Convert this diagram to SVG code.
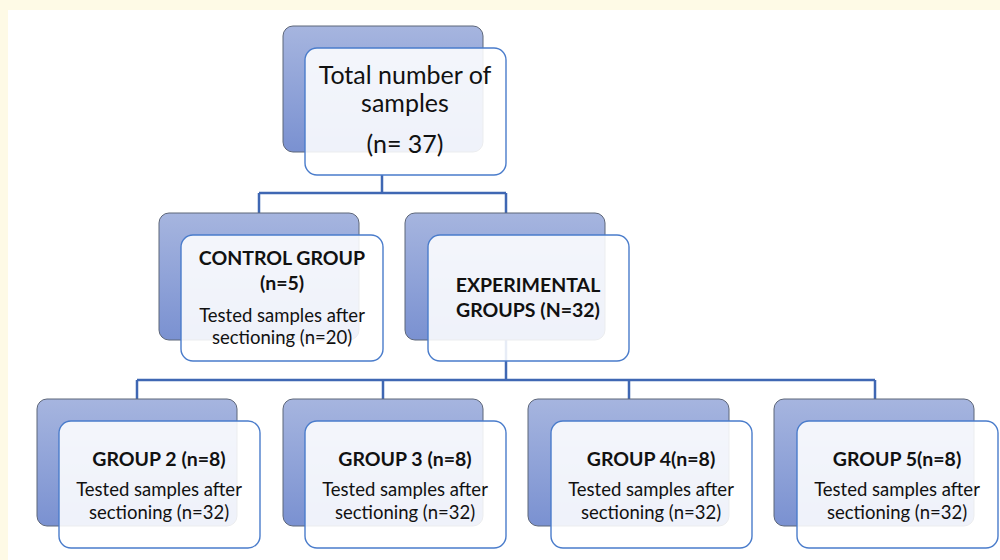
<svg xmlns="http://www.w3.org/2000/svg" width="1000" height="560" viewBox="0 0 1000 560">
<defs>
<linearGradient id="bg" x1="0" y1="0" x2="0" y2="1">
<stop offset="0" stop-color="#a6b5df"/>
<stop offset="1" stop-color="#7a91d1"/>
</linearGradient>
</defs>
<style>
.back{fill:url(#bg);stroke:#5d6679;stroke-width:1}
.front{fill:#ffffff;fill-opacity:0.88;stroke:#4a7ccb;stroke-width:1.4}
.conn{fill:none;stroke:#3f67b3;stroke-width:2.5}
text{font-family:Lato,"Open Sans",sans-serif;fill:#111;text-anchor:middle}
.t{font-size:25px}
.b{font-size:19.5px;font-weight:bold}
.r{font-size:18.5px}
</style>
<rect x="0" y="0" width="1000" height="560" fill="#fefae6"/>
<rect x="8" y="10" width="992" height="550" fill="#ffffff"/>
<g id="connectors">
<path class="conn" d="M382,175 V193 M259,193 H506 M259,193 V213 M506,193 V213"/>
<path class="conn" d="M506,340 V380 M137,380 H875 M137,380 V399 M383,380 V399 M629,380 V399 M875,380 V399"/>
</g>
<g id="total">
<rect class="back" x="283" y="26" width="200" height="126" rx="10"/>
<rect class="front" x="305" y="48" width="201" height="127" rx="12"/>
<text class="t" x="405" y="84">Total number of</text>
<text class="t" x="405" y="112">samples</text>
<text class="t" x="405" y="153">(n= 37)</text>
</g>
<g id="control">
<rect class="back" x="159" y="213" width="200" height="127" rx="10"/>
<rect class="front" x="181" y="235" width="202" height="126" rx="12"/>
<text class="b" x="282" y="265">CONTROL GROUP</text>
<text class="b" x="282" y="290">(n=5)</text>
<text class="r" x="282" y="322">Tested samples after</text>
<text class="r" x="282" y="344">sectioning (n=20)</text>
</g>
<g id="experimental">
<rect class="back" x="405" y="213" width="200" height="127" rx="10"/>
<rect class="front" x="428" y="235" width="201" height="126" rx="12"/>
<text class="b" x="528" y="292">EXPERIMENTAL</text>
<text class="b" x="528" y="317">GROUPS (N=32)</text>
</g>
<g id="group2">
<rect class="back" x="37" y="399" width="200" height="127" rx="10"/>
<rect class="front" x="59" y="421" width="201" height="127" rx="12"/>
<text class="b" x="159" y="466">GROUP 2 (n=8)</text>
<text class="r" x="159" y="496">Tested samples after</text>
<text class="r" x="159" y="519">sectioning (n=32)</text>
</g>
<g id="group3">
<rect class="back" x="283" y="399" width="200" height="127" rx="10"/>
<rect class="front" x="305" y="421" width="201" height="127" rx="12"/>
<text class="b" x="405" y="466">GROUP 3 (n=8)</text>
<text class="r" x="405" y="496">Tested samples after</text>
<text class="r" x="405" y="519">sectioning (n=32)</text>
</g>
<g id="group4">
<rect class="back" x="528" y="399" width="201" height="127" rx="10"/>
<rect class="front" x="551" y="421" width="201" height="127" rx="12"/>
<text class="b" x="651" y="466">GROUP 4(n=8)</text>
<text class="r" x="651" y="496">Tested samples after</text>
<text class="r" x="651" y="519">sectioning (n=32)</text>
</g>
<g id="group5">
<rect class="back" x="774" y="399" width="200" height="127" rx="10"/>
<rect class="front" x="797" y="421" width="201" height="127" rx="12"/>
<text class="b" x="897" y="466">GROUP 5(n=8)</text>
<text class="r" x="897" y="496">Tested samples after</text>
<text class="r" x="897" y="519">sectioning (n=32)</text>
</g>
</svg>
